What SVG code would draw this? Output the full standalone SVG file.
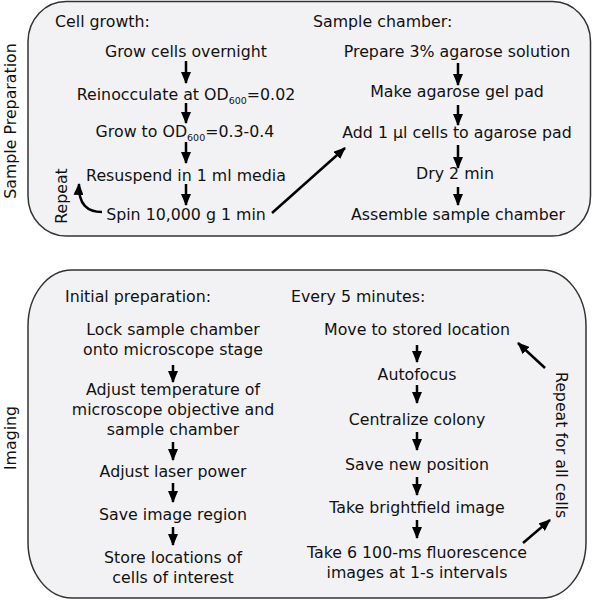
<svg xmlns="http://www.w3.org/2000/svg" width="593" height="600" viewBox="0 0 593 600">
<style>
text{font-family:"DejaVu Sans","Verdana",sans-serif;font-size:15.8px;fill:#111}
.c{text-anchor:middle}
.sub{font-size:9.5px}
.box{fill:#f2f2f4;stroke:#333;stroke-width:1.5}
.ar{stroke:#000;stroke-width:2.5;fill:none;marker-end:url(#ah)}
</style>
<defs>
<marker id="ah" markerUnits="userSpaceOnUse" viewBox="0 0 12 10" markerWidth="12" markerHeight="10" refX="11" refY="5" orient="auto">
<path d="M0,0 L12,5 L0,10 z" fill="#000"/>
</marker>
</defs>
<rect width="593" height="600" fill="#fff"/>
<g id="sample-preparation">
<rect class="box" x="28" y="1.5" width="562.5" height="234.5" rx="38" ry="40"/>
<text transform="translate(16,121) rotate(-90)" class="c">Sample Preparation</text>
</g>
<g id="imaging">
<rect class="box" x="28" y="270" width="558" height="328" rx="44" ry="56"/>
<text transform="translate(16,438) rotate(-90)" class="c">Imaging</text>
</g>
<g id="cell-growth">
<text x="55" y="27">Cell growth:</text>
<text id="n-grow" class="c" x="186" y="57">Grow cells overnight</text>
<text id="n-reinoc" class="c" x="186" y="100">Reinocculate at OD<tspan class="sub" dy="4">600</tspan><tspan dy="-4">=0.02</tspan></text>
<text id="n-growto" class="c" x="185" y="137">Grow to OD<tspan class="sub" dy="4">600</tspan><tspan dy="-4">=0.3-0.4</tspan></text>
<text id="n-resusp" class="c" x="186" y="181">Resuspend in 1 ml media</text>
<text id="n-spin" class="c" x="186" y="220">Spin 10,000 g 1 min</text>
<text id="repeat" transform="translate(67,196) rotate(-90)" class="c">Repeat</text>
</g>
<g id="sample-chamber">
<text x="313" y="27">Sample chamber:</text>
<text id="n-prep" class="c" x="457" y="57">Prepare 3% agarose solution</text>
<text id="n-make" class="c" x="457" y="97">Make agarose gel pad</text>
<text id="n-add" class="c" x="457" y="138">Add 1 µl cells to agarose pad</text>
<text id="n-dry" class="c" x="455" y="179">Dry 2 min</text>
<text id="n-assemble" class="c" x="458" y="220">Assemble sample chamber</text>
</g>
<g id="initial-preparation">
<text x="65" y="302">Initial preparation:</text>
<text class="c" x="173" y="335">Lock sample chamber</text>
<text class="c" x="173" y="355">onto microscope stage</text>
<text class="c" x="173" y="395">Adjust temperature of</text>
<text class="c" x="173" y="415">microscope objective and</text>
<text class="c" x="173" y="435">sample chamber</text>
<text class="c" x="173" y="477">Adjust laser power</text>
<text class="c" x="173" y="520">Save image region</text>
<text class="c" x="173" y="563">Store locations of</text>
<text class="c" x="173" y="583">cells of interest</text>
</g>
<g id="every-5-minutes">
<text x="291" y="302">Every 5 minutes:</text>
<text class="c" x="417" y="335">Move to stored location</text>
<text class="c" x="417" y="380">Autofocus</text>
<text class="c" x="417" y="425">Centralize colony</text>
<text class="c" x="417" y="470">Save new position</text>
<text class="c" x="417" y="513">Take brightfield image</text>
<text class="c" x="417" y="558">Take 6 100-ms fluorescence</text>
<text class="c" x="417" y="578">images at 1-s intervals</text>
<text transform="translate(556,445) rotate(90)" class="c">Repeat for all cells</text>
</g>
<g id="connectors">
<path class="ar" d="M186,61 V83"/>
<path class="ar" d="M186,103 V123"/>
<path class="ar" d="M186,142 V163"/>
<path class="ar" d="M186,184 V205"/>
<path class="ar" d="M102,212 C88,212 78,205 79,184"/>
<path class="ar" d="M272,213 L345,148"/>
<path class="ar" d="M458,63 V85"/>
<path class="ar" d="M458,105 V125"/>
<path class="ar" d="M458,145 V168"/>
<path class="ar" d="M458,187 V205"/>
<path class="ar" d="M173,365 V382"/>
<path class="ar" d="M173,442 V460"/>
<path class="ar" d="M173,483 V502"/>
<path class="ar" d="M173,527 V545"/>
<path class="ar" d="M417,345 V362"/>
<path class="ar" d="M417,385 V403"/>
<path class="ar" d="M417,432 V450"/>
<path class="ar" d="M417,477 V495"/>
<path class="ar" d="M417,520 V538"/>
<path class="ar" d="M545,368 L518,343"/>
<path class="ar" d="M523,543 L550,520"/>
</g>
</svg>
